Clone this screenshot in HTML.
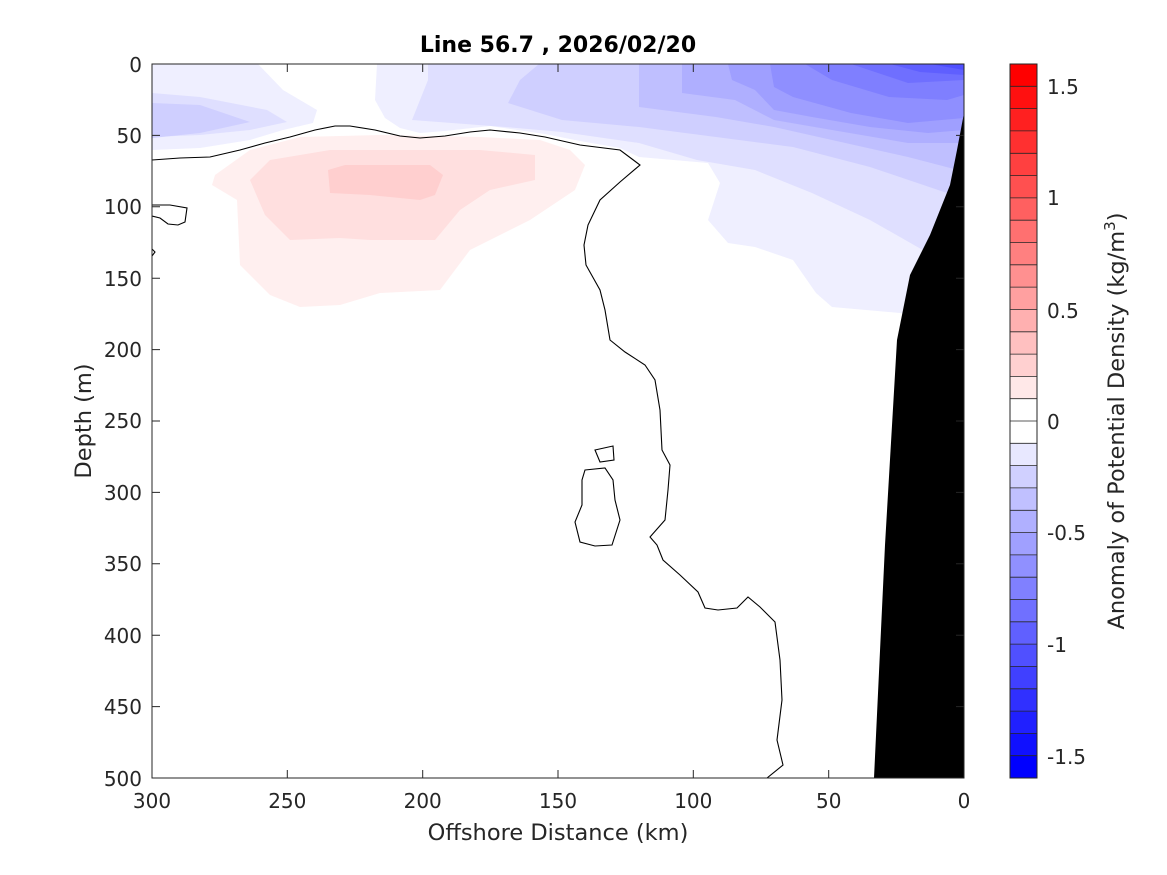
<!DOCTYPE html>
<html><head><meta charset="utf-8"><style>
html,body{margin:0;padding:0;background:#fff;}
svg{display:block;font-family:"DejaVu Sans","Liberation Sans",sans-serif;}
</style></head><body>
<svg width="1167" height="875" viewBox="0 0 1167 875" xmlns="http://www.w3.org/2000/svg">
<rect width="1167" height="875" fill="#fff"/>
<defs><clipPath id="c"><rect x="152" y="64" width="812" height="714"/></clipPath></defs>
<g clip-path="url(#c)">
<polygon fill="#ffefef" points="212,185 215,175 250,150 300,137 380,135 480,137 540,140 570,150 585,165 575,190 530,220 470,250 440,290 380,293 340,305 300,307 270,295 240,265 237,200"/>
<polygon fill="#ffdfdf" points="250,180 270,160 330,150 480,150 535,155 535,180 490,190 460,210 435,240 370,240 340,238 290,240 265,215"/>
<polygon fill="#ffcfcf" points="328,170 345,165 430,165 443,175 435,195 420,200 370,195 330,193"/>
<polygon fill="#efefff" points="152,64 258,64 283,90 317,110 313,123 283,130 250,140 200,148 152,150"/>
<polygon fill="#dfdfff" points="152,93 200,97 267,110 287,122 250,130 200,135 152,137"/>
<polygon fill="#cfcfff" points="152,103 200,105 250,122 200,133 152,138"/>
<polygon fill="#efefff" points="377,64 964,64 964,320 900,313 832,307 816,293 793,260 755,247 728,243 708,220 720,183 708,163 639,157 620,148 580,141 545,134 490,126 445,131 420,133 400,128 385,118 375,100"/>
<polygon fill="#dfdfff" points="428,64 428,80 412,120 505,127 562,132 639,143 697,160 755,170 812,193 870,220 928,253 964,260 964,64"/>
<polygon fill="#cfcfff" points="539,64 520,80 508,103 562,120 639,127 716,137 793,147 870,167 947,193 964,193 964,64"/>
<polygon fill="#bfbfff" points="639,64 639,107 716,117 774,127 832,140 908,157 958,170 964,170 964,64"/>
<polygon fill="#afafff" points="682,64 682,93 735,100 774,120 832,130 908,143 964,143 964,64"/>
<polygon fill="#9f9fff" points="728,64 732,80 755,90 774,110 812,117 870,127 928,133 964,130 964,64"/>
<polygon fill="#8f8fff" points="770,64 774,87 793,97 851,113 908,123 964,118 964,64"/>
<polygon fill="#7f7fff" points="805,64 832,80 889,97 947,100 964,95 964,64"/>
<polygon fill="#6f6fff" points="851,64 908,83 964,80 964,64"/>
<polygon fill="#5f5fff" points="890,64 920,72 964,75 964,64"/>
<polygon fill="#4f4fff" points="930,64 964,70 964,64"/>
<polygon fill="#000" points="964,113 957,150 950,185 930,235 910,275 897,340 885,545 874,778 964,778"/>
<g fill="none" stroke="#000" stroke-width="1.1">
<polyline points="152,160 180,158 210,157 240,150 265,143 290,137 315,130 335,126 350,126 375,130 400,136 420,138 445,136 470,132 490,130 520,133 545,137 580,145 620,150 640,165 620,182 600,200 588,225 584,245 586,265 600,290 605,310 610,340 625,352 645,365 655,380 660,410 662,450 670,465 668,490 665,520 650,537 657,545 663,560 680,575 698,592 705,608 718,610 737,608 748,597 760,607 775,622 780,660 782,700 777,740 783,765 767,778"/>
<polyline points="152,205 170,205 187,208 185,222 178,225 168,224 160,218 152,216"/>
<polyline points="152,249 155,252 152,256"/>
<polygon points="595,450 613,446 614,460 600,462"/>
<polygon points="585,470 605,468 613,480 615,500 620,520 612,545 595,546 580,542 575,522 582,505 582,480"/>
</g>
</g>
<rect x="152" y="64" width="812" height="714" fill="none" stroke="#262626" stroke-width="1"/>
<g stroke="#262626" stroke-width="1">
<path d="M287.3,778v-8M422.7,778v-8M558,778v-8M693.3,778v-8M828.7,778v-8M287.3,64v8M422.7,64v8M558,64v8M693.3,64v8M828.7,64v8"/>
<path d="M152,135.4h8M152,206.8h8M152,278.2h8M152,349.6h8M152,421h8M152,492.4h8M152,563.8h8M152,635.2h8M152,706.6h8M964,135.4h-8M964,206.8h-8M964,278.2h-8M964,349.6h-8M964,421h-8M964,492.4h-8M964,563.8h-8M964,635.2h-8M964,706.6h-8"/>
</g>
<g font-size="20" fill="#262626" text-anchor="middle">
<text x="152" y="808">300</text><text x="287.3" y="808">250</text><text x="422.7" y="808">200</text><text x="558" y="808">150</text><text x="693.3" y="808">100</text><text x="828.7" y="808">50</text><text x="964" y="808">0</text>
</g>
<g font-size="20" fill="#262626" text-anchor="end">
<text x="142" y="72">0</text><text x="142" y="143">50</text><text x="142" y="214">100</text><text x="142" y="286">150</text><text x="142" y="357">200</text><text x="142" y="428">250</text><text x="142" y="500">300</text><text x="142" y="571">350</text><text x="142" y="643">400</text><text x="142" y="714">450</text><text x="142" y="786">500</text>
</g>
<text x="558" y="840" font-size="22.5" fill="#262626" text-anchor="middle">Offshore Distance (km)</text>
<text transform="translate(91,421) rotate(-90)" font-size="22.5" fill="#262626" text-anchor="middle">Depth (m)</text>
<text x="558" y="52" font-size="22" font-weight="bold" fill="#000" text-anchor="middle">Line 56.7 , 2026/02/20</text>
<g>
<rect x="1010" y="64.00" width="27" height="22.32" fill="#ff0000"/>
<rect x="1010" y="86.31" width="27" height="22.32" fill="#ff1010"/>
<rect x="1010" y="108.63" width="27" height="22.32" fill="#ff2020"/>
<rect x="1010" y="130.94" width="27" height="22.32" fill="#ff3030"/>
<rect x="1010" y="153.25" width="27" height="22.32" fill="#ff4040"/>
<rect x="1010" y="175.56" width="27" height="22.32" fill="#ff5050"/>
<rect x="1010" y="197.88" width="27" height="22.32" fill="#ff6060"/>
<rect x="1010" y="220.19" width="27" height="22.32" fill="#ff7070"/>
<rect x="1010" y="242.50" width="27" height="22.32" fill="#ff8080"/>
<rect x="1010" y="264.81" width="27" height="22.32" fill="#ff9090"/>
<rect x="1010" y="287.13" width="27" height="22.32" fill="#ffa0a0"/>
<rect x="1010" y="309.44" width="27" height="22.32" fill="#ffb0b0"/>
<rect x="1010" y="331.75" width="27" height="22.32" fill="#ffc0c0"/>
<rect x="1010" y="354.06" width="27" height="22.32" fill="#ffd0d0"/>
<rect x="1010" y="376.38" width="27" height="22.32" fill="#ffe8e8"/>
<rect x="1010" y="398.69" width="27" height="22.32" fill="#ffffff"/>
<rect x="1010" y="421.00" width="27" height="22.32" fill="#ffffff"/>
<rect x="1010" y="443.31" width="27" height="22.32" fill="#e8e8ff"/>
<rect x="1010" y="465.63" width="27" height="22.32" fill="#d0d0ff"/>
<rect x="1010" y="487.94" width="27" height="22.32" fill="#c0c0ff"/>
<rect x="1010" y="510.25" width="27" height="22.32" fill="#b0b0ff"/>
<rect x="1010" y="532.56" width="27" height="22.32" fill="#a0a0ff"/>
<rect x="1010" y="554.88" width="27" height="22.32" fill="#9090ff"/>
<rect x="1010" y="577.19" width="27" height="22.32" fill="#8080ff"/>
<rect x="1010" y="599.50" width="27" height="22.32" fill="#7070ff"/>
<rect x="1010" y="621.81" width="27" height="22.32" fill="#6060ff"/>
<rect x="1010" y="644.13" width="27" height="22.32" fill="#5050ff"/>
<rect x="1010" y="666.44" width="27" height="22.32" fill="#4040ff"/>
<rect x="1010" y="688.75" width="27" height="22.32" fill="#3030ff"/>
<rect x="1010" y="711.06" width="27" height="22.32" fill="#2020ff"/>
<rect x="1010" y="733.38" width="27" height="22.32" fill="#1010ff"/>
<rect x="1010" y="755.69" width="27" height="22.32" fill="#0000ff"/>
</g>
<g stroke="#262626" stroke-width="0.8">
<path d="M1010,86.3h27M1010,108.6h27M1010,130.9h27M1010,153.3h27M1010,175.6h27M1010,197.9h27M1010,220.2h27M1010,242.5h27M1010,264.8h27M1010,287.1h27M1010,309.4h27M1010,331.8h27M1010,354.1h27M1010,376.4h27M1010,398.7h27M1010,421h27M1010,443.3h27M1010,465.6h27M1010,487.9h27M1010,510.3h27M1010,532.6h27M1010,554.9h27M1010,577.2h27M1010,599.5h27M1010,621.8h27M1010,644.1h27M1010,666.4h27M1010,688.8h27M1010,711.1h27M1010,733.4h27M1010,755.7h27"/>
</g>
<rect x="1010" y="64" width="27" height="714" fill="none" stroke="#262626" stroke-width="1"/>
<g font-size="20" fill="#262626">
<text x="1047" y="94">1.5</text><text x="1047" y="205">1</text><text x="1047" y="318">0.5</text><text x="1047" y="429">0</text><text x="1047" y="540">-0.5</text><text x="1047" y="652">-1</text><text x="1047" y="764">-1.5</text>
</g>
<text transform="translate(1124,421) rotate(-90)" font-size="22.5" fill="#262626" text-anchor="middle">Anomaly of Potential Density (kg/m<tspan font-size="15" dy="-9">3</tspan><tspan dy="9">)</tspan></text>
</svg>
</body></html>
